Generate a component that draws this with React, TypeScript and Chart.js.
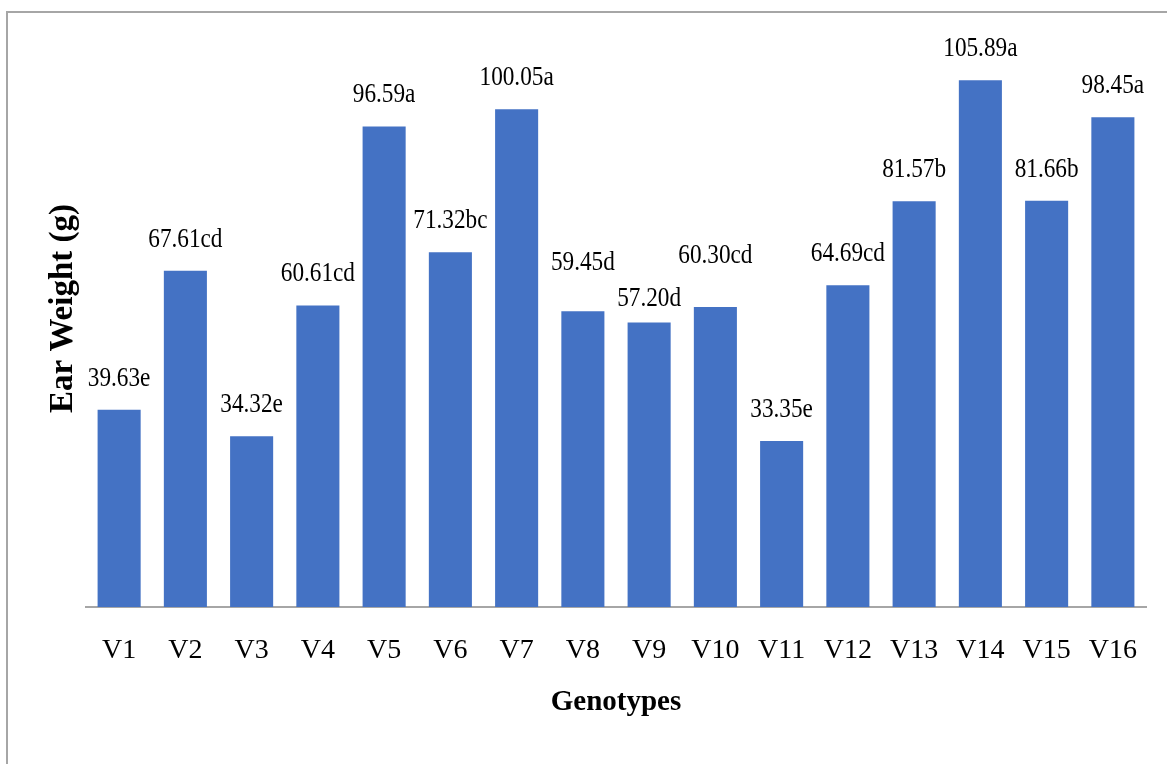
import React, { useEffect, useRef } from "react";
import { Chart, registerables } from "chart.js";

Chart.register(...registerables);

const categories = ["V1", "V2", "V3", "V4", "V5", "V6", "V7", "V8", "V9", "V10", "V11", "V12", "V13", "V14", "V15", "V16"];
const earWeight = [39.63, 67.61, 34.32, 60.61, 96.59, 71.32, 100.05, 59.45, 57.2, 60.3, 33.35, 64.69, 81.57, 105.89, 81.66, 98.45];
const groupLetters = ["e", "cd", "e", "cd", "a", "bc", "a", "d", "d", "cd", "e", "cd", "b", "a", "b", "a"];
const yMin = 0;
const yMax = 120;
const xTitle = "Genotypes";
const yTitle = "Ear Weight (g)";

const SERIF = "'Liberation Serif', 'Times New Roman', serif";

// styling: gap (px) between a label's baseline and its bar top; a few labels were moved apart in the original
const LABEL_GAP = 24;
const labelExtraGap: Record<number, number> = { 7: 17, 8: -8, 9: 20 };

const barLabelPlugin = {
  id: "barLabels",
  afterDatasetsDraw(chart: any) {
    const ctx = chart.ctx;
    const meta = chart.getDatasetMeta(0);
    ctx.save();
    ctx.font = `28px ${SERIF}`;
    ctx.fillStyle = "#000000";
    ctx.textAlign = "center";
    ctx.textBaseline = "alphabetic";
    meta.data.forEach((bar: any, i: number) => {
      const text = earWeight[i].toFixed(2) + groupLetters[i];
      const gap = LABEL_GAP + (labelExtraGap[i] || 0);
      ctx.save();
      ctx.translate(bar.x, bar.y - gap);
      ctx.scale(0.83, 1);
      ctx.fillText(text, 0, 0);
      ctx.restore();
    });
    ctx.restore();
  },
};

export default function App() {
  const canvasRef = useRef<HTMLCanvasElement | null>(null);

  useEffect(() => {
    if (!canvasRef.current) return;
    const chart = new Chart(canvasRef.current, {
      type: "bar",
      data: {
        labels: categories,
        datasets: [
          {
            label: yTitle,
            data: earWeight,
            backgroundColor: "#4472C4",
            borderWidth: 0,
            barPercentage: 0.65,
            categoryPercentage: 1,
          },
        ],
      },
      options: {
        animation: false,
        responsive: true,
        maintainAspectRatio: false,
        layout: { padding: { top: 10, right: 21, bottom: 0, left: 0 } },
        plugins: {
          legend: { display: false },
          tooltip: { enabled: false },
        },
        scales: {
          x: {
            grid: { display: false, drawTicks: false },
            border: { display: true, color: "#A6A6A6", width: 2 },
            ticks: {
              color: "#000000",
              font: { family: SERIF, size: 28 },
              padding: 27,
              maxRotation: 0,
              autoSkip: false,
            },
            title: {
              display: true,
              text: xTitle,
              color: "#000000",
              font: { family: SERIF, size: 29, weight: "bold" },
              padding: { top: 0, bottom: 44 },
            },
            afterFit(scale: any) {
              scale.height = 157;
            },
          },
          y: {
            min: yMin,
            max: yMax,
            grid: { display: false },
            border: { display: false },
            ticks: { display: false },
            title: {
              display: true,
              text: yTitle,
              color: "#000000",
              font: { family: SERIF, size: 33, weight: "bold" },
              padding: { top: 44, bottom: 0 },
            },
            afterFit(scale: any) {
              scale.width = 86;
            },
          },
        },
      },
      plugins: [barLabelPlugin],
    });
    return () => chart.destroy();
  }, []);

  return (
    <div
      style={{
        position: "fixed",
        left: 0,
        top: 0,
        width: 1167,
        height: 764,
        background: "#ffffff",
        overflow: "hidden",
      }}
    >
      <div
        style={{
          position: "absolute",
          left: 6,
          top: 11,
          right: -10,
          bottom: -10,
          borderTop: "2px solid #A6A6A6",
          borderLeft: "2px solid #A6A6A6",
        }}
      />
      <canvas ref={canvasRef} style={{ position: "absolute", left: 0, top: 0 }} />
    </div>
  );
}
